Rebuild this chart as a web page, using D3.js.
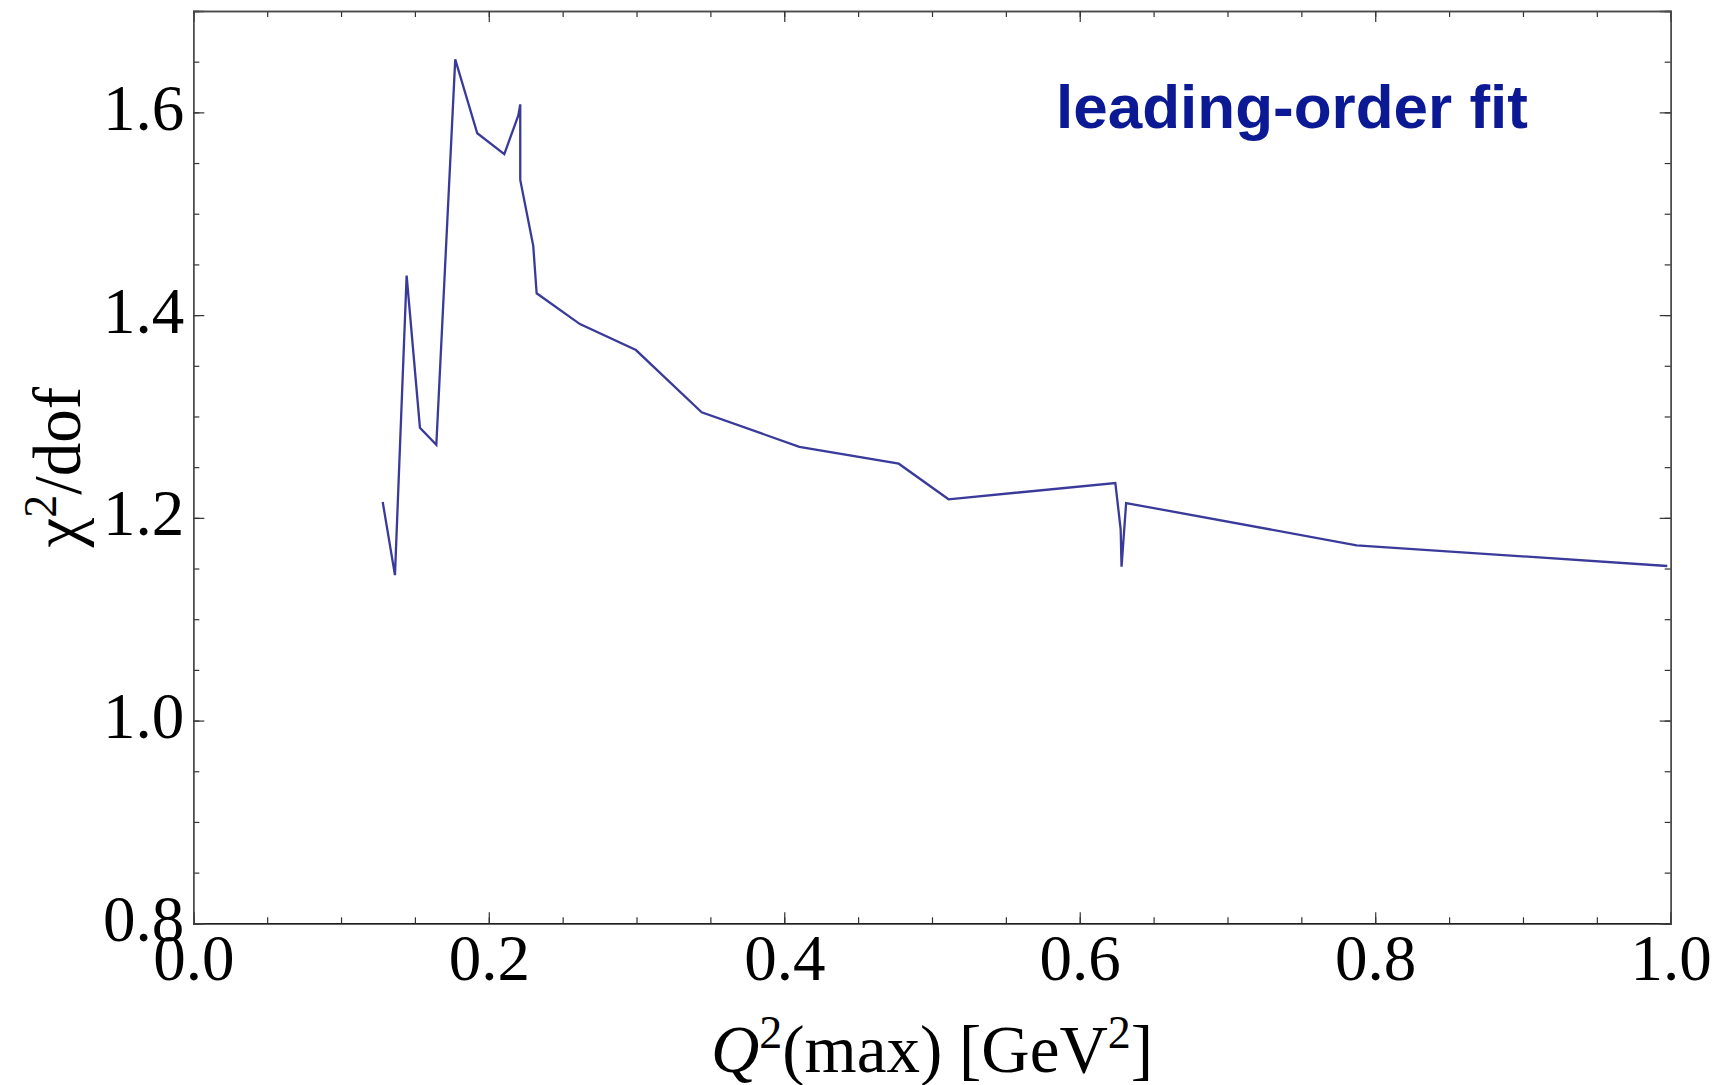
<!DOCTYPE html>
<html>
<head>
<meta charset="utf-8">
<script src="https://cdn.jsdelivr.net/npm/d3@7"></script>
<style>
  body { margin: 0; background: #fff; }
  svg { display: block; }
  .tick text { font-family: "Liberation Serif", "Times New Roman", serif; font-size: 65px; fill: #000; }
</style>
</head>
<body>
<svg></svg>
<script>
document.addEventListener("DOMContentLoaded", function() {
  const width = 1719;
  const height = 1085;
  const margin = { top: 11, left: 193.3, bottom: 161.7, right: 48.3 };

  const q2max = [0.1282, 0.1365, 0.1444, 0.1534, 0.1645, 0.1773, 0.1922, 0.2105, 0.2200, 0.2213,
                 0.2213, 0.2301, 0.2324, 0.2617, 0.2996, 0.3441, 0.4102, 0.4775, 0.5112, 0.6241,
                 0.6277, 0.6283, 0.6314, 0.7874, 0.9977];
  const chi2dof = [1.2156, 1.1435, 1.439, 1.2889, 1.2721, 1.6523, 1.5794, 1.5587, 1.597, 1.6079,
                   1.5334, 1.4683, 1.4215, 1.3911, 1.3655, 1.3041, 1.2701, 1.2534, 1.2183, 1.2343,
                   1.1887, 1.1518, 1.2146, 1.1729, 1.1525];
  const xMajor = [0, 0.2, 0.4, 0.6, 0.8, 1.0];
  const yMajor = [0.8, 1.0, 1.2, 1.4, 1.6];
  const xMinor = d3.range(0, 1.0001, 0.05);
  const yMinor = d3.range(0.8, 1.7001, 0.05);
  const legendText = "leading-order fit";

  let svg = d3.select("svg")
              .attr("width", width)
              .attr("height", height);

  //scales
  let xScale = d3.scaleLinear()
                 .domain([0, 1])
                 .range([margin.left, width - margin.right]);

  let yScale = d3.scaleLinear()
                 .domain([0.8, 1.7])
                 .range([height - margin.bottom, margin.top]);

  const fmt = d3.format(".1f");
  const frameColor = "#4a4a4a";

  //minor ticks on all four sides
  const minorAxes = [
    [d3.axisBottom(xScale).tickValues(xMinor), `translate(0,${yScale(0.8)})`],
    [d3.axisTop(xScale).tickValues(xMinor), `translate(0,${yScale(1.7)})`],
    [d3.axisLeft(yScale).tickValues(yMinor), `translate(${xScale(0)},0)`],
    [d3.axisRight(yScale).tickValues(yMinor), `translate(${xScale(1)},0)`]
  ];
  minorAxes.forEach(([ax, tr]) => {
    svg.append("g")
       .attr("transform", tr)
       .call(ax.tickSize(-6).tickFormat(""))
       .call(g => g.select(".domain").attr("stroke", frameColor).attr("stroke-width", 1.4))
       .call(g => g.selectAll(".tick line").attr("stroke", "#333").attr("stroke-width", 1.2));
  });

  //major ticks + labels
  svg.append("g")
     .attr("id", "x-axis")
     .attr("transform", `translate(0,${yScale(0.8)})`)
     .call(d3.axisBottom(xScale).tickValues(xMajor).tickSize(-11).tickPadding(11).tickFormat(fmt))
     .call(g => g.select(".domain").attr("stroke", "#222").attr("stroke-width", 1.6))
     .call(g => g.selectAll(".tick line").attr("stroke", "#333").attr("stroke-width", 1.2));

  svg.append("g")
     .attr("transform", `translate(0,${yScale(1.7)})`)
     .call(d3.axisTop(xScale).tickValues(xMajor).tickSize(-11).tickFormat(""))
     .call(g => g.select(".domain").attr("stroke", frameColor).attr("stroke-width", 1.4))
     .call(g => g.selectAll(".tick line").attr("stroke", "#333").attr("stroke-width", 1.2));

  svg.append("g")
     .attr("id", "y-axis")
     .attr("transform", `translate(${xScale(0)},0)`)
     .call(d3.axisLeft(yScale).tickValues(yMajor).tickSize(-11).tickPadding(9).tickFormat(fmt))
     .call(g => g.select(".domain").attr("stroke", frameColor).attr("stroke-width", 1.4))
     .call(g => g.selectAll(".tick line").attr("stroke", "#333").attr("stroke-width", 1.2))
     .call(g => g.selectAll("text").attr("dy", "0.26em"));

  svg.append("g")
     .attr("transform", `translate(${xScale(1)},0)`)
     .call(d3.axisRight(yScale).tickValues(yMajor).tickSize(-11).tickFormat(""))
     .call(g => g.select(".domain").attr("stroke", frameColor).attr("stroke-width", 1.4))
     .call(g => g.selectAll(".tick line").attr("stroke", "#333").attr("stroke-width", 1.2));

  svg.selectAll(".tick text").attr("font-family", null).attr("font-size", null);

  //the curve
  const pts = q2max.map((q, i) => [q, chi2dof[i]]);
  let line = d3.line()
               .x(d => xScale(d[0]))
               .y(d => yScale(d[1]));

  svg.append("path")
     .datum(pts)
     .attr("d", line)
     .attr("fill", "none")
     .attr("stroke", "#3a3a9b")
     .attr("stroke-width", 2.3)
     .attr("stroke-linejoin", "miter");

  //legend label
  svg.append("text")
     .attr("x", 1056)
     .attr("y", 128)
     .text(legendText)
     .style("font-family", "'Liberation Sans', Arial, sans-serif")
     .style("font-weight", "bold")
     .style("font-size", "62px")
     .style("fill", "#0b1a94");

  //axis titles
  const serif = "'Liberation Serif', 'Times New Roman', serif";
  const sup = 24;
  let xLabel = svg.append("text")
                  .attr("x", (xScale(0) + xScale(1)) / 2)
                  .attr("y", 1072)
                  .attr("text-anchor", "middle")
                  .style("font-family", serif)
                  .style("font-size", "67px");
  xLabel.append("tspan").style("font-style", "italic").text("Q");
  xLabel.append("tspan").attr("dy", -sup).style("font-size", "46px").text("2");
  xLabel.append("tspan").attr("dy", sup).text("(max) [GeV");
  xLabel.append("tspan").attr("dy", -sup).style("font-size", "46px").text("2");
  xLabel.append("tspan").attr("dy", sup).text("]");

  let yLabel = svg.append("text")
                  .attr("transform", `translate(80,${(yScale(0.8) + yScale(1.7)) / 2}) rotate(-90)`)
                  .attr("text-anchor", "middle")
                  .style("font-family", serif)
                  .style("font-size", "67px");
  yLabel.append("tspan").text("χ");
  yLabel.append("tspan").attr("dy", -sup).style("font-size", "46px").text("2");
  yLabel.append("tspan").attr("dy", sup).text("/dof");
});
</script>
</body>
</html>
